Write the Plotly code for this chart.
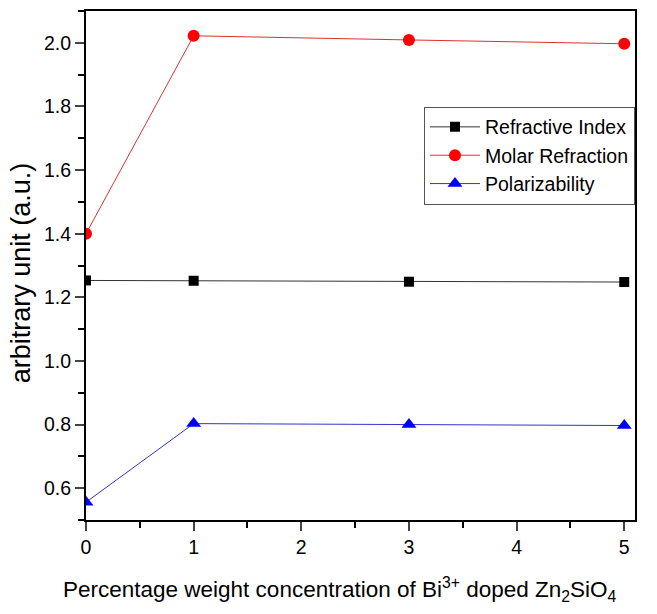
import plotly.graph_objects as go

x = [0, 1, 3, 5]
refractive_index = [1.253, 1.252, 1.249, 1.248]
molar_refraction = [1.400, 2.022, 2.009, 1.997]
polarizability = [0.556, 0.803, 0.800, 0.797]

x_ticks = [0, 1, 2, 3, 4, 5]
y_ticks = [0.6, 0.8, 1.0, 1.2, 1.4, 1.6, 1.8, 2.0]

x_title = "Percentage weight concentration of Bi<sup>3+</sup> doped Zn<sub>2</sub>SiO<sub>4</sub>"
y_title = "arbitrary unit (a.u.)"

font = "Liberation Sans, Arial, sans-serif"

fig = go.Figure()
fig.add_trace(go.Scatter(x=x, y=refractive_index, mode="lines+markers", name="Refractive Index",
                         line=dict(color="#333333", width=1),
                         marker=dict(symbol="square", size=10, color="black"), cliponaxis=True))
fig.add_trace(go.Scatter(x=x, y=molar_refraction, mode="lines+markers", name="Molar Refraction",
                         line=dict(color="#e03030", width=1),
                         marker=dict(symbol="circle", size=12, color="#ff0000"), cliponaxis=True))
fig.add_trace(go.Scatter(x=x, y=polarizability, mode="lines+markers", name="Polarizability",
                         line=dict(color="#3333cc", width=1),
                         marker=dict(symbol="triangle-up", size=13, color="#0000ff"), cliponaxis=True))

fig.update_layout(
    width=657, height=614,
    margin=dict(l=86, r=22, t=9, b=94),
    paper_bgcolor="white", plot_bgcolor="white",
    font=dict(family=font, size=19.5, color="black"),
    showlegend=True,
    legend=dict(x=1.0, y=0.812, xanchor="right", yanchor="top",
                bordercolor="#555555", borderwidth=1, bgcolor="white",
                font=dict(size=19.5), tracegroupgap=0, itemwidth=50),
    xaxis=dict(range=[0, 5.1], tickvals=x_ticks, ticks="outside", ticklen=9, tickwidth=2,
               showline=True, linewidth=2, linecolor="black", mirror=True, showgrid=False,
               zeroline=False,
               minor=dict(dtick=0.5, tick0=0, ticks="outside", ticklen=6, tickwidth=2, tickcolor="black"),
               tickfont=dict(size=19.5)),
    yaxis=dict(range=[0.5, 2.1], tickvals=y_ticks, tickformat=".1f", ticks="outside", ticklen=9, tickwidth=2,
               showline=True, linewidth=2, linecolor="black", mirror=True, showgrid=False,
               zeroline=False,
               minor=dict(dtick=0.1, tick0=0.5, ticks="outside", ticklen=6, tickwidth=2, tickcolor="black"),
               tickfont=dict(size=19.5)),
    annotations=[
        dict(text=x_title, xref="paper", yref="paper", x=0.463, y=-0.137,
             xanchor="center", yanchor="middle", showarrow=False, font=dict(size=22.5)),
        dict(text=y_title, xref="paper", yref="paper", x=-0.118, y=0.485, textangle=-90,
             xanchor="center", yanchor="middle", showarrow=False, font=dict(size=27)),
    ],
)

fig.write_html("out.html", config={"displayModeBar": False},
               post_script="document.body.style.margin='0px';")
